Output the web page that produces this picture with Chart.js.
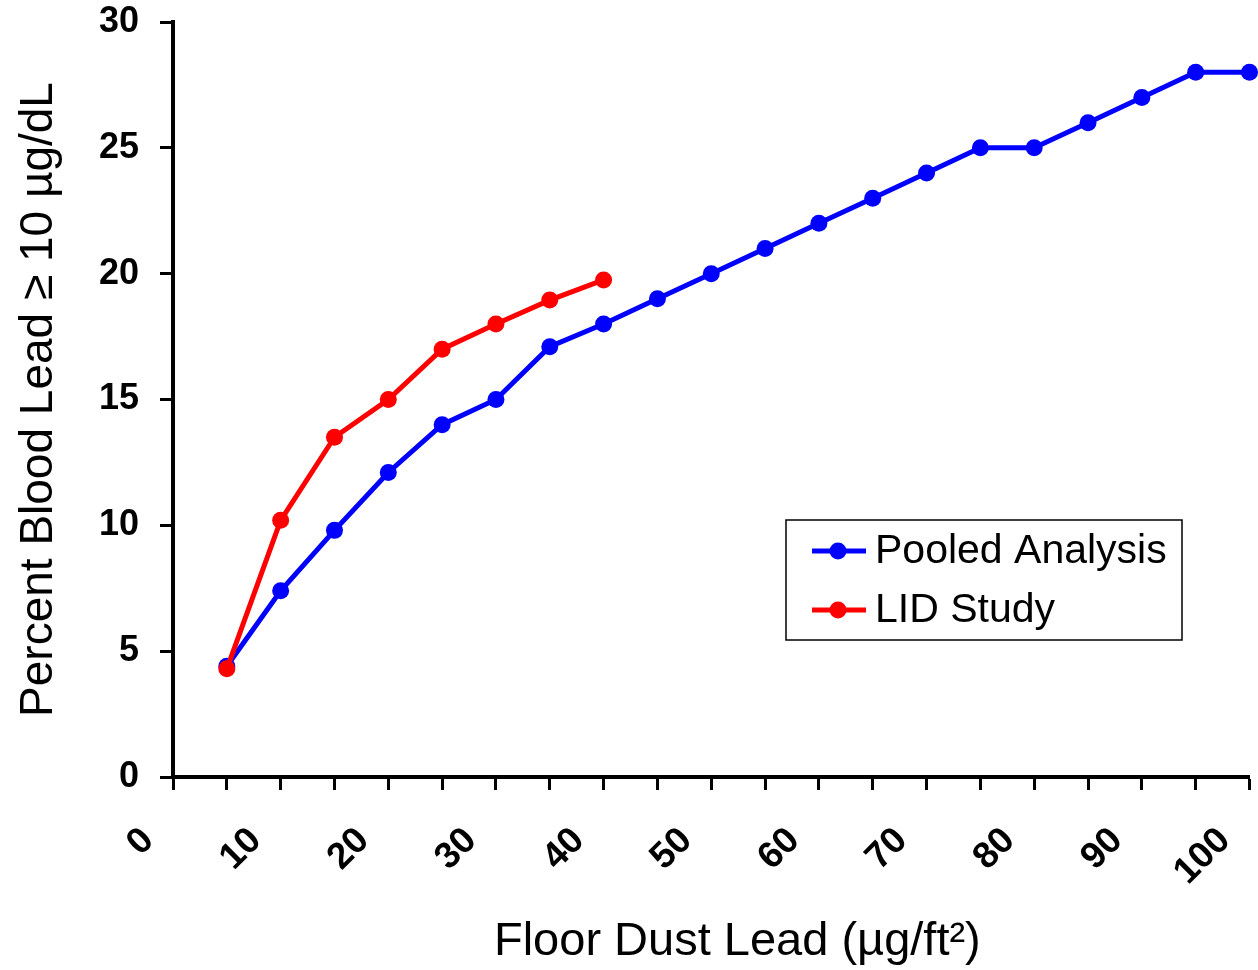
<!DOCTYPE html>
<html lang="en">
<head>
  <meta charset="UTF-8" />
  <title>Floor Dust Lead vs Percent Blood Lead</title>
  <style>
    body { margin: 0; background: #fff; }
    .wrap { width: 1258px; height: 970px; position: relative; }
  </style>
</head>
<body>

<div class="wrap">
  <canvas id="leadChart"></canvas>
</div>

<script src="https://cdn.jsdelivr.net/npm/chart.js"></script>
<script>
// floor dust lead (ug/ft2)
const dustLevels = [5, 10, 15, 20, 25, 30, 35, 40, 45, 50, 55, 60, 65, 70, 75, 80, 85, 90, 95, 100];
// percent blood lead >= 10 ug/dL
const pooledAnalysis = [4.4, 7.4, 9.8, 12.1, 14.0, 15.0, 17.1, 18.0, 19.0, 20.0, 21.0, 22.0, 23.0, 24.0, 25.0, 25.0, 26.0, 27.0, 28.0, 28.0];
const lidStudy = [4.3, 10.2, 13.5, 15.0, 17.0, 18.0, 18.95, 19.75];
const seriesNames = ['Pooled Analysis', 'LID Study'];
const seriesColors = ['#0000ff', '#ff0000'];

const FONT = "'Liberation Sans', Arial, Helvetica, sans-serif";

function toPoints(values) {
  return values.map((v, i) => ({ x: dustLevels[i], y: v }));
}

// legend box drawn inside the plot, like the original
const boxLegend = {
  id: 'boxLegend',
  afterDraw(chart) {
    const ctx = chart.ctx;
    const left = 786, top = 520, w = 396, h = 120;
    ctx.save();
    ctx.strokeStyle = '#000';
    ctx.lineWidth = 1.5;
    ctx.strokeRect(left, top, w, h);
    ctx.font = '41px ' + FONT;
    ctx.textBaseline = 'middle';
    chart.data.datasets.forEach((ds, i) => {
      const y = top + 31 + i * 59;
      ctx.strokeStyle = ds.borderColor;
      ctx.lineWidth = 5;
      ctx.beginPath();
      ctx.moveTo(812, y);
      ctx.lineTo(866, y);
      ctx.stroke();
      ctx.fillStyle = ds.borderColor;
      ctx.beginPath();
      ctx.arc(838, y, 8.5, 0, Math.PI * 2);
      ctx.fill();
      ctx.fillStyle = '#000';
      ctx.fillText(ds.label, 875, y + 1);
    });
    ctx.restore();
  }
};

const ctx = document.getElementById('leadChart').getContext('2d');
new Chart(ctx, {
  type: 'line',
  data: {
    datasets: [
      {
        label: seriesNames[0],
        data: toPoints(pooledAnalysis),
        borderColor: seriesColors[0],
        backgroundColor: seriesColors[0],
        borderWidth: 5,
        pointRadius: 8.5,
        pointBorderWidth: 0,
        tension: 0,
        clip: false,
        order: 2
      },
      {
        label: seriesNames[1],
        data: toPoints(lidStudy),
        borderColor: seriesColors[1],
        backgroundColor: seriesColors[1],
        borderWidth: 5,
        pointRadius: 8.5,
        pointBorderWidth: 0,
        tension: 0,
        clip: false,
        order: 1
      }
    ]
  },
  options: {
    responsive: true,
    maintainAspectRatio: false,
    animation: false,
    layout: { padding: { left: 8, top: 22, right: 5, bottom: 0 } },
    plugins: {
      legend: { display: false },
      tooltip: { enabled: false }
    },
    scales: {
      x: {
        type: 'linear',
        min: 0,
        max: 100,
        afterFit: s => { s.height = 193; s.paddingLeft = 0; s.paddingRight = 0; },
        grid: { drawOnChartArea: false, tickLength: 13, tickWidth: 3, tickColor: '#000' },
        border: { display: true, color: '#000', width: 4 },
        ticks: {
          stepSize: 5,
          autoSkip: false,
          minRotation: 45,
          maxRotation: 45,
          padding: 29,
          labelOffset: -25,
          color: '#000',
          font: { family: FONT, size: 37, weight: 'bold' },
          callback: v => (v % 10 === 0 ? String(v) : '')
        },
        title: {
          display: true,
          text: '    Floor Dust Lead (µg/ft²)',
          color: '#000',
          font: { family: FONT, size: 47 },
          padding: { top: 0, bottom: 0 }
        }
      },
      y: {
        min: 0,
        max: 30,
        afterFit: s => { s.width = 165; s.paddingTop = 0; s.paddingBottom = 0; },
        grid: { drawOnChartArea: false, tickLength: 13, tickWidth: 3, tickColor: '#000' },
        border: { display: true, color: '#000', width: 4 },
        ticks: {
          stepSize: 5,
          padding: 21,
          color: '#000',
          font: { family: FONT, size: 36, weight: 'bold' }
        },
        title: {
          display: true,
          text: 'Percent Blood Lead ≥ 10 µg/dL',
          color: '#000',
          font: { family: FONT, size: 46 },
          padding: { top: 4, bottom: 0 }
        }
      }
    }
  },
  plugins: [boxLegend]
});
</script>

</body>
</html>
